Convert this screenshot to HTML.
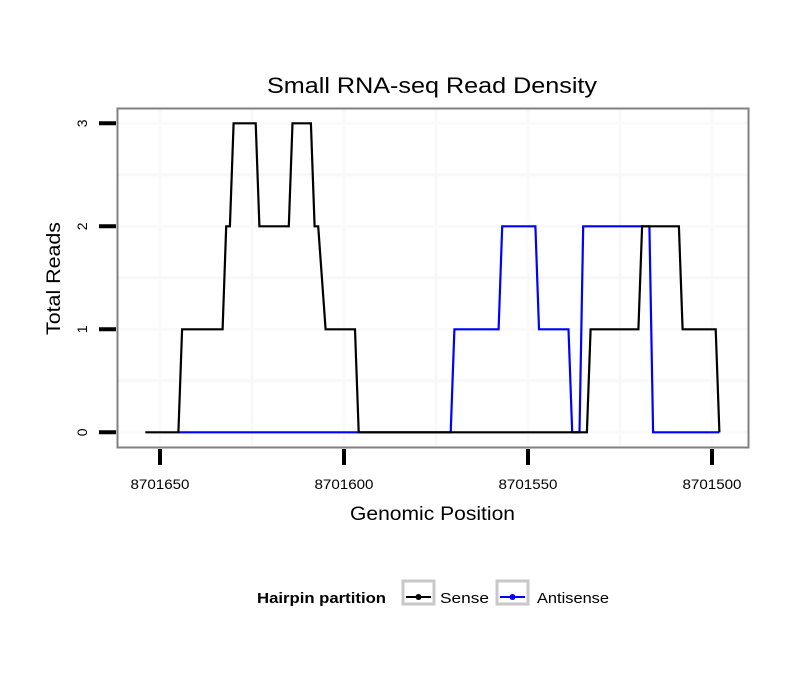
<!DOCTYPE html>
<html><head><meta charset="utf-8"><style>
body{margin:0;background:#fff}
svg text{font-family:"Liberation Sans",sans-serif}
</style></head><body>
<svg id="chart" width="810" height="690">
<rect width="810" height="690" fill="#fff"/>
<text x="267" y="93" font-size="22" textLength="330" lengthAdjust="spacingAndGlyphs">Small RNA-seq Read Density</text>
<g id="grid"></g>
<g id="series"></g>
<rect x="117.5" y="108.5" width="631" height="339" fill="none" stroke="#808080" stroke-width="2"/>
<g id="axes"></g>
<text x="350" y="520" font-size="19" textLength="165" lengthAdjust="spacingAndGlyphs">Genomic Position</text>
<text transform="translate(60,335) rotate(-90)" font-size="19" textLength="113" lengthAdjust="spacingAndGlyphs">Total Reads</text>
<g>
<text x="257" y="603" font-size="15" font-weight="bold" textLength="129" lengthAdjust="spacingAndGlyphs">Hairpin partition</text>
<g>
<rect x="403" y="581" width="31" height="23" fill="#fff" stroke="#c8c8c8" stroke-width="3"/>
<line x1="406" y1="597" x2="431" y2="597" stroke="#000" stroke-width="2"/>
<circle cx="418.5" cy="597" r="3" fill="#000"/>
<text x="440" y="603" font-size="15" textLength="49" lengthAdjust="spacingAndGlyphs">Sense</text></g>
<g>
<rect x="497" y="581" width="31" height="23" fill="#fff" stroke="#c8c8c8" stroke-width="3"/>
<line x1="500" y1="597" x2="525" y2="597" stroke="#0000ff" stroke-width="2"/>
<circle cx="512.5" cy="597" r="3" fill="#0000ff"/>
<text x="537" y="603" font-size="15" textLength="72" lengthAdjust="spacingAndGlyphs">Antisense</text></g>
</g>
</svg>
<script>
const xTicks=[8701650,8701600,8701550,8701500];
const yTicks=[0,1,2,3];
const sensePos=[8701654,8701645,8701644,8701633,8701632,8701631,8701630,8701624,8701623,8701615,8701614,8701609,8701608,8701607,8701605,8701597,8701596,8701534,8701533,8701520,8701519,8701509,8701508,8701499,8701498];
const senseVal=[0,0,1,1,2,2,3,3,2,2,3,3,2,2,1,1,0,0,1,1,2,2,1,1,0];
const antiPos=[8701645,8701571,8701570,8701558,8701557,8701548,8701547,8701539,8701538,8701536,8701535,8701517,8701516,8701498];
const antiVal=[0,0,1,1,2,2,1,1,0,0,2,2,0,0];
const NS='http://www.w3.org/2000/svg';
const X=p=>160+(8701650-p)*3.68;
const Y=v=>432.3-v*103;
function mk(t,a,parent){const e=document.createElementNS(NS,t);for(const k in a)e.setAttribute(k,a[k]);document.getElementById(parent).appendChild(e);return e;}
for(let i=0;i<xTicks.length;i++){
  const g=mk('line',{x1:X(xTicks[i]),x2:X(xTicks[i]),y1:109,y2:447,stroke:'#fafafa','stroke-width':3},'grid');
  
  
  if(i<xTicks.length-1){const m=(xTicks[i]+xTicks[i+1])/2;
  const g2=mk('line',{x1:X(m),x2:X(m),y1:109,y2:447,stroke:'#f8f8f8','stroke-width':3},'grid');
  
  }
}
for(let i=0;i<yTicks.length;i++){
  const g=mk('line',{x1:118,x2:748,y1:Y(yTicks[i]),y2:Y(yTicks[i]),stroke:'#fafafa','stroke-width':3},'grid');
  
  
  if(i<yTicks.length-1){const m=(yTicks[i]+yTicks[i+1])/2;
  const g2=mk('line',{x1:118,x2:748,y1:Y(m),y2:Y(m),stroke:'#f8f8f8','stroke-width':3},'grid');
  
  }
}
xTicks.forEach(t=>{
  const l=mk('line',{x1:X(t),x2:X(t),y1:449,y2:465,stroke:'#000','stroke-width':4},'axes');
  
  
  const tx=mk('text',{x:X(t)-29.5,y:489,'font-size':14,textLength:59,lengthAdjust:'spacingAndGlyphs'},'axes');
  tx.textContent=t;
  
  
});
yTicks.forEach(t=>{
  const l=mk('line',{x1:99,x2:116,y1:Y(t),y2:Y(t),stroke:'#000','stroke-width':4},'axes');
  
  
  const tx=mk('text',{transform:`translate(87,${Y(t)}) rotate(-90)`,'font-size':14,'text-anchor':'middle'},'axes');
  tx.textContent=t;
  
  
});
function line(pos,val,color,name){
  const pts=pos.map((p,i)=>X(p).toFixed(1)+','+Y(val[i]).toFixed(1)).join(' ');
  const pl=mk('polyline',{points:pts,fill:'none',stroke:color,'stroke-width':2.2,'stroke-linejoin':'miter'},'series');
  
  
}
line(antiPos,antiVal,'#0000ff','antisense-line');
line(sensePos,senseVal,'#000000','sense-line');
</script>
</body></html>
